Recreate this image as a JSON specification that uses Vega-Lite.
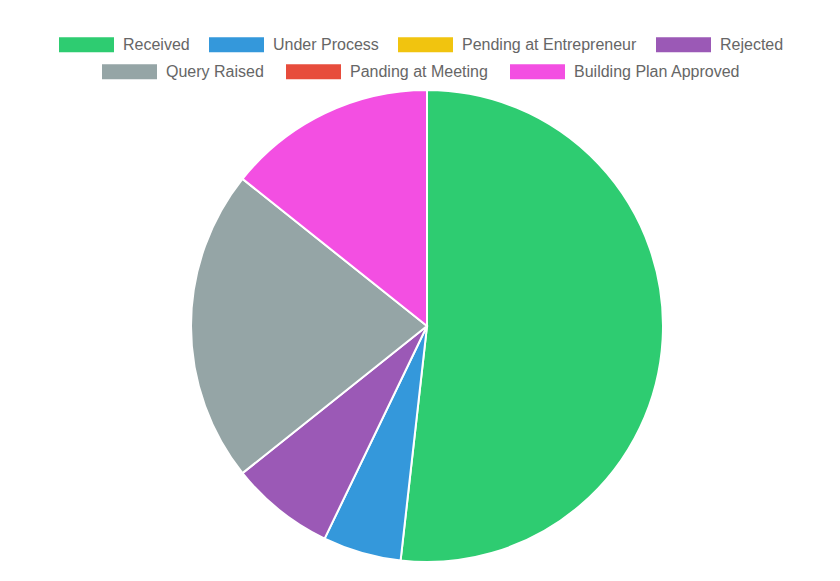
{
  "$schema": "https://vega.github.io/schema/vega-lite/v6.json",
  "width": 814,
  "height": 462,
  "autosize": {"type": "none"},
  "padding": {"left": 20, "right": 6, "top": 95, "bottom": 24},
  "background": "white",
  "view": {"stroke": null},
  "data": {
    "values": [
      {"status": "Received", "count": 29, "k": 1},
      {"status": "Under Process", "count": 3, "k": 2},
      {"status": "Pending at Entrepreneur", "count": 0, "k": 3},
      {"status": "Rejected", "count": 4, "k": 4},
      {"status": "Query Raised", "count": 12, "k": 5},
      {"status": "Panding at Meeting", "count": 0, "k": 6},
      {"status": "Building Plan Approved", "count": 8, "k": 7}
    ]
  },
  "transform": [{"filter": "datum.count > 0"}],
  "encoding": {
    "theta": {"field": "count", "type": "quantitative", "stack": true},
    "order": {"field": "k", "type": "quantitative"}
  },
  "layer": [
    {
      "mark": {"type": "arc", "outerRadius": 236, "stroke": "white", "strokeWidth": 2},
      "encoding": {
        "fill": {
          "field": "status",
          "type": "nominal",
          "scale": {
            "domain": ["Received", "Under Process", "Pending at Entrepreneur", "Rejected", "Query Raised", "Panding at Meeting", "Building Plan Approved"],
            "range": ["#2ecc71", "#3498db", "#f1c40f", "#9b59b6", "#95a5a6", "#e74c3c", "#f34fe2"]
          },
          "legend": {
            "orient": "none",
            "legendX": 39,
            "legendY": -78,
            "direction": "horizontal",
            "title": null,
            "values": ["Received", "Under Process", "Pending at Entrepreneur", "Rejected"],
            "symbolType": "M-1,-0.27H1V0.27H-1Z",
            "symbolSize": 3025,
            "symbolStrokeWidth": 0,
            "symbolOpacity": 1,
            "labelFontSize": 16,
            "labelFont": "Liberation Sans",
            "labelColor": "#666666",
            "labelLimit": 400,
            "labelOffset": 9,
            "columnPadding": 19
          }
        }
      }
    },
    {
      "mark": {"type": "arc", "outerRadius": 236, "stroke": "white", "strokeWidth": 2},
      "encoding": {
        "color": {
          "field": "status",
          "type": "nominal",
          "scale": {
            "domain": ["Building Plan Approved", "Panding at Meeting", "Query Raised", "Rejected", "Pending at Entrepreneur", "Under Process", "Received"],
            "range": ["#f34fe2", "#e74c3c", "#95a5a6", "#9b59b6", "#f1c40f", "#3498db", "#2ecc71"]
          },
          "legend": {
            "orient": "none",
            "legendX": 82,
            "legendY": -51,
            "direction": "horizontal",
            "title": null,
            "values": ["Query Raised", "Panding at Meeting", "Building Plan Approved"],
            "symbolType": "M-1,-0.27H1V0.27H-1Z",
            "symbolSize": 3025,
            "symbolStrokeWidth": 0,
            "symbolOpacity": 1,
            "labelFontSize": 16,
            "labelFont": "Liberation Sans",
            "labelColor": "#666666",
            "labelLimit": 400,
            "labelOffset": 9,
            "columnPadding": 22
          }
        }
      }
    }
  ]
}
